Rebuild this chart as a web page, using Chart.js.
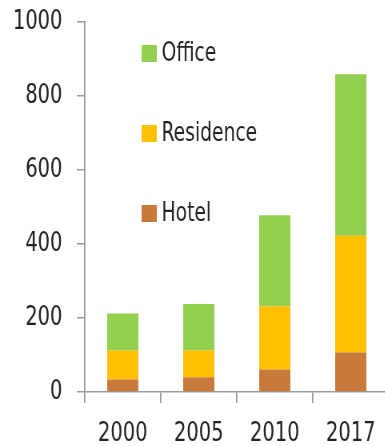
<!DOCTYPE html>
<html>
<head>
<meta charset="utf-8">
<script src="https://cdn.jsdelivr.net/npm/chart.js@4"></script>
<style>
  html, body { margin: 0; padding: 0; background: #fff; overflow: hidden; width: 385px; height: 446px; }
  #wrap { width: 486px; height: 446px; position: relative; transform: scaleX(0.8); transform-origin: 0 0; }
  canvas { display: block; }
</style>
</head>
<body>
<div id="wrap"><canvas id="c" width="486" height="446"></canvas></div>
<script>
const categories = ['2000', '2005', '2010', '2017'];
const hotel = [34, 40, 61, 107];
const residence = [78, 72, 171, 315];
const office = [100, 126, 246, 437];
const yTicks = [0, 200, 400, 600, 800, 1000];

const FONT = '"DejaVu Sans Condensed", "Liberation Sans", sans-serif';
const AXIS = '#9c9c9c';

const legendPlugin = {
  id: 'sideLegend',
  afterDraw(chart) {
    const ctx = chart.ctx;
    const ca = chart.chartArea;
    const items = chart.data.datasets.slice().reverse();
    ctx.save();
    ctx.font = '26px ' + FONT;
    ctx.textBaseline = 'middle';
    ctx.textAlign = 'left';
    items.forEach((ds, i) => {
      const cy = ca.top + 31 + i * 80;
      const x = ca.left + 71;
      ctx.fillStyle = ds.backgroundColor;
      ctx.fillRect(x, cy - 8, 19, 17);
      ctx.fillStyle = '#222';
      ctx.fillText(ds.label, x + 25, cy + 1);
    });
    ctx.restore();
  }
};

new Chart(document.getElementById('c'), {
  type: 'bar',
  data: {
    labels: categories,
    datasets: [
      { label: 'Hotel', data: hotel, backgroundColor: '#C87A3A' },
      { label: 'Residence', data: residence, backgroundColor: '#FFC000' },
      { label: 'Office', data: office, backgroundColor: '#92D050' }
    ]
  },
  options: {
    responsive: false,
    animation: false,
    devicePixelRatio: 1,
    layout: { padding: { top: 22, left: 15, right: 0, bottom: 0 } },
    datasets: { bar: { barPercentage: 0.41, categoryPercentage: 1.0 } },
    plugins: { legend: { display: false }, tooltip: { enabled: false } },
    scales: {
      x: {
        stacked: true,
        grid: { drawOnChartArea: false, drawTicks: true, tickLength: 11, color: AXIS, lineWidth: 1.8, offset: true },
        border: { color: AXIS, width: 1.5 },
        ticks: { font: { family: FONT, size: 27 }, color: '#222', padding: 15, maxRotation: 0 },
        afterFit(s) { s.height = 54; s.paddingLeft = 0; s.paddingRight = 0; }
      },
      y: {
        stacked: true,
        min: 0,
        max: 1000,
        afterBuildTicks(s) { s.ticks = yTicks.map(v => ({ value: v })); },
        grid: { drawOnChartArea: false, drawTicks: true, tickLength: 10, color: AXIS, lineWidth: 1.5 },
        border: { color: AXIS, width: 1.8 },
        ticks: { font: { family: FONT, size: 27 }, color: '#222', padding: 18, callback: (v) => String(v) },
        afterFit(s) { s.width = 91; s.paddingTop = 0; s.paddingBottom = 0; }
      }
    }
  },
  plugins: [legendPlugin]
});
</script>
</body>
</html>
